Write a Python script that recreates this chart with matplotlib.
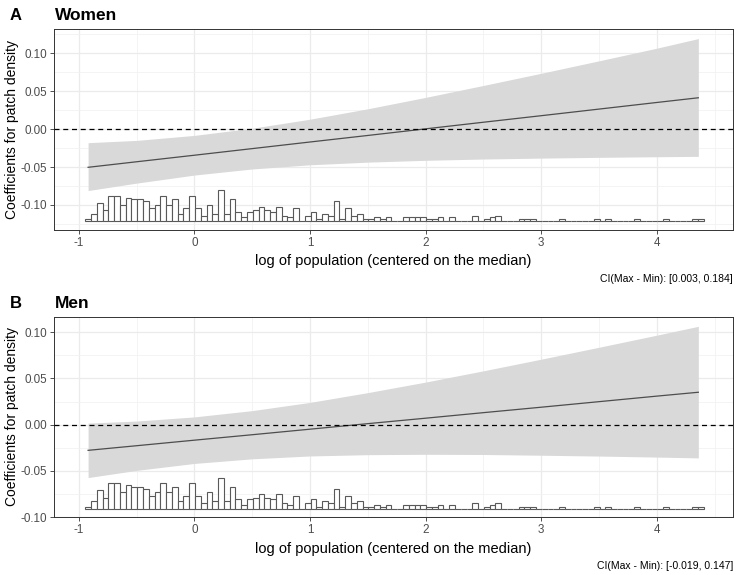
import numpy as np
import matplotlib
matplotlib.use("Agg")
import matplotlib.pyplot as plt
from matplotlib.ticker import MultipleLocator

plt.rcParams['font.family'] = ['Liberation Sans', 'DejaVu Sans']

# population histogram (counts per bin), shared by both panels
bin_start = -0.945
bin_width = 0.05
counts = [1, 4, 10, 6, 14, 14, 9, 13, 12, 12,
          11, 7, 9, 14, 9, 12, 4, 7, 14, 7,
          3, 9, 4, 17, 4, 12, 5, 2, 5, 6,
          8, 6, 5, 8, 3, 2, 7, 0, 3, 5,
          1, 4, 3, 11, 1, 7, 3, 4, 1, 1,
          2, 1, 2, 0, 0, 2, 2, 2, 2, 1,
          1, 2, 0, 2, 0, 0, 0, 3, 0, 1,
          2, 3, 0, 0, 0, 1, 1, 1, 0, 0,
          0, 0, 1, 0, 0, 0, 0, 0, 1, 0,
          1, 0, 0, 0, 0, 1, 0, 0, 0, 0,
          1, 0, 0, 0, 0, 1, 1]

# marginal effect curves
x_pts = [-0.92, -0.5, 0.0, 0.5, 1.0, 1.5, 2.0, 2.5, 3.0, 3.5, 4.0, 4.36]

women_fit = [-0.0504, -0.0431, -0.0345, -0.0258, -0.0171, -0.0085, 0.0002,
             0.0089, 0.0175, 0.0262, 0.0349, 0.0411]
women_hi = [-0.018, -0.015, -0.0084, 0.0010, 0.0129, 0.0266, 0.0416,
            0.0573, 0.0733, 0.0897, 0.1063, 0.1190]
women_lo = [-0.081, -0.0712, -0.0606, -0.0526, -0.0471, -0.0436, -0.0412,
            -0.0395, -0.0383, -0.0373, -0.0365, -0.0360]

men_fit = [-0.0278, -0.0228, -0.0168, -0.0109, -0.0049, 0.0011, 0.0070,
           0.0130, 0.0189, 0.0249, 0.0309, 0.0351]
men_hi = [0.0017, 0.0039, 0.0084, 0.0152, 0.0241, 0.0347, 0.0461,
          0.0583, 0.0709, 0.0838, 0.0969, 0.1065]
men_lo = [-0.0573, -0.0495, -0.0420, -0.0370, -0.0339, -0.0325, -0.0321,
          -0.0323, -0.0331, -0.0340, -0.0351, -0.0360]

panels = [
    dict(tag='A', title='Women', fit=women_fit, hi=women_hi, lo=women_lo,
         ci='CI(Max - Min): [0.003, 0.184]', ylim=(-0.1329, 0.1316),
         hbase=-0.121, hspan=0.0403),
    dict(tag='B', title='Men', fit=men_fit, hi=men_hi, lo=men_lo,
         ci='CI(Max - Min): [-0.019, 0.147]', ylim=(-0.0999, 0.1166),
         hbase=-0.0909, hspan=0.0335),
]

W, H = 740, 575
fig = plt.figure(figsize=(W / 100, H / 100), dpi=100)

def px(x, y):
    return x / W, 1 - y / H

axes_px = [(54, 29, 733, 230), (54, 317, 733, 517)]
edges = bin_start + bin_width * np.arange(len(counts))
cnt = np.array(counts, dtype=float)

for p, (l, t, r, b) in zip(panels, axes_px):
    ax = fig.add_axes([l / W, 1 - b / H, (r - l) / W, (b - t) / H])
    ax.fill_between(x_pts, p['lo'], p['hi'], color='#D9D9D9', lw=0, zorder=2)
    ax.plot(x_pts, p['fit'], color='#4D4D4D', lw=0.9, zorder=3)
    ax.axhline(0, color='black', lw=0.9, ls=(0, (4, 3)), zorder=4)
    ax.bar(edges, cnt / cnt.max() * p['hspan'], width=bin_width, align='edge',
           bottom=p['hbase'], color='white', edgecolor='#595959', lw=0.8, zorder=5)

    ax.set_xlim(-1.215, 4.66)
    ax.set_ylim(*p['ylim'])
    ax.xaxis.set_minor_locator(MultipleLocator(0.5))
    ax.yaxis.set_minor_locator(MultipleLocator(0.025))
    ax.set_yticks(np.arange(-0.10, 0.101, 0.05))
    ax.set_yticklabels(['-0.10', '-0.05', '0.00', '0.05', '0.10'])
    ax.set_xticks(range(-1, 5))
    ax.set_xticklabels(['-1', '0', '1', '2', '3', '4'])
    ax.grid(which='major', color='#EBEBEB', lw=0.9, zorder=0)
    ax.grid(which='minor', color='#F2F2F2', lw=0.6, zorder=0)
    ax.set_axisbelow(True)
    ax.tick_params(which='major', length=3, width=0.6, color='#333333',
                   labelsize=8.4, labelcolor='#4D4D4D', pad=2)
    ax.tick_params(which='minor', length=0)
    for s in ax.spines.values():
        s.set_color('#333333')
        s.set_linewidth(0.7)

    ax.set_xlabel('log of population (centered on the median)', fontsize=10.5, labelpad=4)
    ax.set_ylabel('Coefficients for patch density', fontsize=10, va='center')
    ax.yaxis.set_label_coords((12 - l) / (r - l), 0.5)

    fig.text(*px(10, t - 14), p['tag'], fontsize=12, fontweight='bold',
             ha='left', va='center')
    fig.text(*px(55, t - 14), p['title'], fontsize=12.5, fontweight='bold',
             ha='left', va='center')
    fig.text(*px(733, b + 49), p['ci'], fontsize=7.5, ha='right', va='center')

fig.savefig('out.png', dpi=100)
